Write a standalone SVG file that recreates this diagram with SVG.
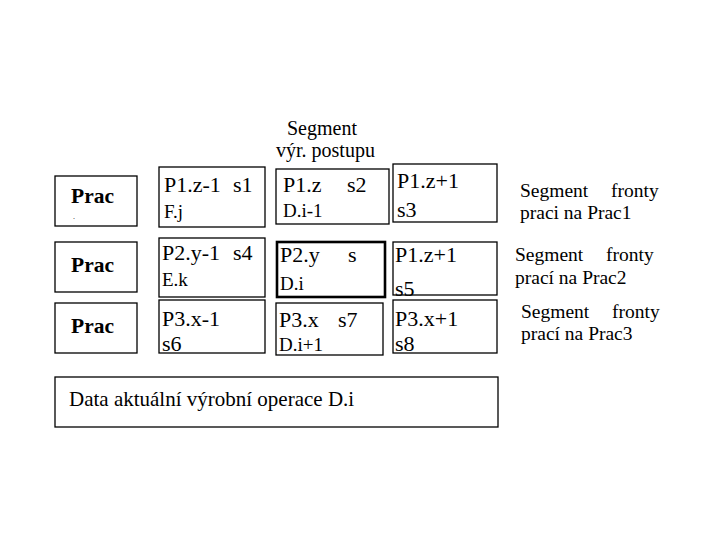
<svg xmlns="http://www.w3.org/2000/svg" width="720" height="540" viewBox="0 0 720 540">
<style>
rect{fill:#fff;stroke:#000;stroke-width:1.3}
text{font-family:'Liberation Serif','Times New Roman','DejaVu Serif',serif;fill:#000}
.p{font-size:21.5px;font-weight:bold}
.a{font-size:22px}
.b{font-size:19px}
.r{font-size:19.5px}
.t{font-size:20px}
</style>
<rect x="0" y="0" width="720" height="540" style="stroke:none"/>
<g id="title"><text class="t" x="287" y="135">Segment</text><text class="t" x="276" y="157">výr. postupu</text></g>
<g id="prac1"><rect x="55" y="176" width="82" height="50"/><text class="p" x="71" y="203">Prac</text><text x="73" y="219" style="font-size:8px">.</text></g>
<g id="prac2"><rect x="55" y="242" width="82" height="50"/><text class="p" x="71" y="272">Prac</text></g>
<g id="prac3"><rect x="55" y="303" width="82" height="50"/><text class="p" x="71" y="333">Prac</text></g>
<g id="c11"><rect x="159" y="167" width="106" height="60"/><text class="a" x="164" y="192">P1.z-1</text><text class="a" x="233" y="192">s1</text><text class="b" x="164" y="218">F.j</text></g>
<g id="c12"><rect x="276" y="169" width="113" height="55"/><text class="a" x="283" y="192">P1.z</text><text class="a" x="347" y="192">s2</text><text class="b" x="283" y="217">D.i-1</text></g>
<g id="c13"><rect x="393" y="164" width="104" height="58"/><text class="a" x="397" y="188">P1.z+1</text><text class="a" x="397" y="217">s3</text></g>
<g id="c21"><rect x="159" y="238" width="106" height="59"/><text class="a" x="162" y="260">P2.y-1</text><text class="a" x="233" y="260">s4</text><text class="b" x="162" y="286">E.k</text></g>
<g id="c22"><rect x="277" y="242" width="108" height="55" style="stroke-width:2.6"/><text class="a" x="280" y="262">P2.y</text><text class="a" x="348" y="262">s</text><text class="b" x="280" y="290">D.i</text></g>
<g id="c23"><rect x="393" y="242" width="104" height="53"/><text class="a" x="395" y="262">P1.z+1</text><text class="a" x="395" y="296">s5</text></g>
<g id="c31"><rect x="159" y="300" width="106" height="53"/><text class="a" x="162" y="326">P3.x-1</text><text class="a" x="162" y="351">s6</text></g>
<g id="c32"><rect x="276" y="303" width="107" height="52"/><text class="a" x="279" y="327">P3.x</text><text class="a" x="338" y="327">s7</text><text class="b" x="279" y="351">D.i+1</text></g>
<g id="c33"><rect x="393" y="300" width="104" height="53"/><text class="a" x="395" y="326">P3.x+1</text><text class="a" x="395" y="351">s8</text></g>
<g id="q1"><text class="r" x="520" y="197">Segment</text><text class="r" x="611" y="197">fronty</text><text class="r" x="520" y="219">praci na Prac1</text></g>
<g id="q2"><text class="r" x="515" y="261">Segment</text><text class="r" x="606" y="261">fronty</text><text class="r" x="515" y="284">prací na Prac2</text></g>
<g id="q3"><text class="r" x="521" y="318">Segment</text><text class="r" x="612" y="318">fronty</text><text class="r" x="521" y="340">prací na Prac3</text></g>
<g id="data"><rect x="55" y="377" width="443" height="50"/><text x="69" y="406" style="font-size:21px">Data aktuální výrobní operace D.i</text></g>
<g id="connectors"></g>
</svg>
